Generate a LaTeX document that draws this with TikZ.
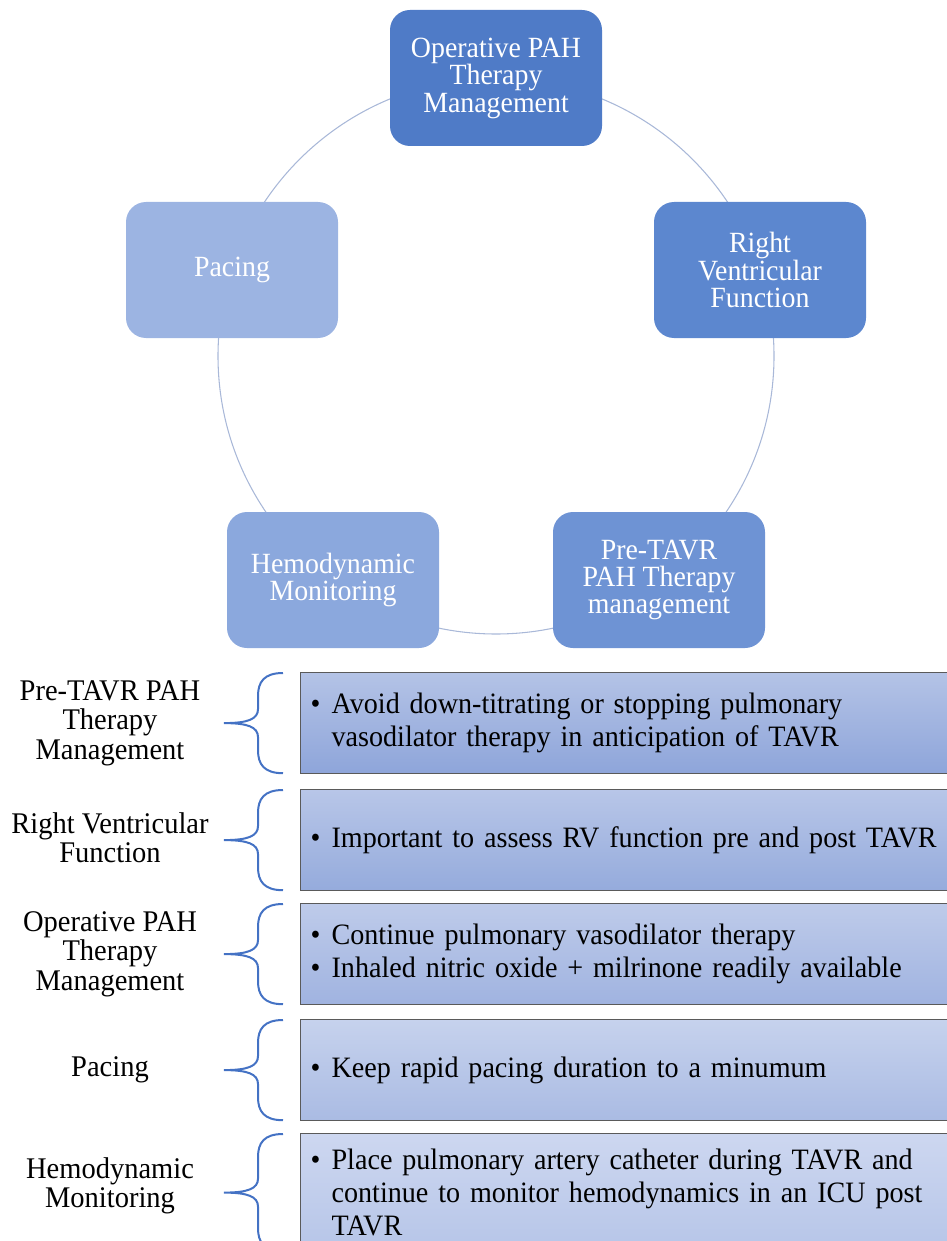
\documentclass[tikz,border=0pt]{standalone}
\usepackage{fontspec}
\setmainfont{Liberation Serif}[FakeStretch=0.95]
\usepackage{xcolor}
\usetikzlibrary{calc,positioning}

\definecolor{cycA}{HTML}{4F7BC7}
\definecolor{cycB}{HTML}{5C87CF}
\definecolor{cycC}{HTML}{6E93D4}
\definecolor{cycD}{HTML}{8BA8DD}
\definecolor{cycE}{HTML}{9CB4E2}
\definecolor{ringline}{HTML}{A9B8D8}
\definecolor{braceblue}{HTML}{4472C4}
\definecolor{rowline}{HTML}{5A5A5A}
% row gradients (top / bottom)
\definecolor{rA}{HTML}{B4C3E6}
\definecolor{rAb}{HTML}{8EA5DA}
\definecolor{rB}{HTML}{B8C6E8}
\definecolor{rBb}{HTML}{95ABDC}
\definecolor{rC}{HTML}{BECBEA}
\definecolor{rCb}{HTML}{A0B3E0}
\definecolor{rD}{HTML}{C6D2ED}
\definecolor{rDb}{HTML}{AABBE3}
\definecolor{rE}{HTML}{CDD7F0}
\definecolor{rEb}{HTML}{B6C5E8}

\newcommand{\bul}[1]{\hyphenpenalty=10000\relax\exhyphenpenalty=10000\relax
    \hangindent=15.75pt\relax\hangafter=1\relax\noindent\makebox[15.75pt][l]{\textbullet}#1\par}

\tikzset{
    cyclebox/.style={rounded corners=15pt, minimum width=159pt, minimum height=102pt,
        text=white, align=center, font=\fontsize{22}{20.6}\selectfont},
    ring/.style={draw=ringline, line width=0.8pt},
    rowbox/.style={draw=rowline, line width=0.9pt, anchor=north west, minimum height=75.75pt,
        text width=490pt, inner xsep=7.5pt, align=left, font=\fontsize{22.2}{24.75}\selectfont},
    rowlabel/.style={align=center, font=\fontsize{22.5}{22}\selectfont},
    curly/.style={draw=braceblue, line width=1.5pt},
}

\begin{document}
\begin{tikzpicture}[x=0.75pt, y=-0.75pt]
        \useasboundingbox (0,0) rectangle (946,1241);

        % cycle
        \coordinate (hub) at (496,356);
        \draw[ring] (hub) circle[radius=208.5pt];

        \node[cyclebox, fill=cycA] (optpah) at (496,78) {Operative PAH\\Therapy\\Management};
        \node[cyclebox, fill=cycB] (rvf) at (760,270) {Right\\Ventricular\\Function};
        \node[cyclebox, fill=cycC] (pretavr) at (659,580) {Pre-TAVR\\PAH Therapy\\management};
        \node[cyclebox, fill=cycD] (hemo) at (333,580) {Hemodynamic\\Monitoring};
        \node[cyclebox, fill=cycE] (pacing) at (232,270) {Pacing};

        % rows
        \node[rowbox, top color=rA, bottom color=rAb] (rowpre) at (300,672)
            {\bul{Avoid down-titrating or stopping pulmonary vasodilator therapy in anticipation of TAVR}};
        \node[rowbox, top color=rB, bottom color=rBb] (rowrv) at (300,789)
            {\bul{Important to assess RV function pre and post TAVR}};
        \node[rowbox, top color=rC, bottom color=rCb] (rowop) at (300,903)
            {\bul{Continue pulmonary vasodilator therapy}\bul{Inhaled nitric oxide + milrinone readily available}};
        \node[rowbox, top color=rD, bottom color=rDb] (rowpace) at (300,1019)
            {\bul{Keep rapid pacing duration to a minumum}};
        \node[rowbox, top color=rE, bottom color=rEb, minimum height=88.5pt] (rowhemo) at (300,1133)
            {\bul{Place pulmonary artery catheter during TAVR and continue to monitor hemodynamics in an ICU post TAVR}};

        % labels
        \node[rowlabel] (labpre) at (110,723) {Pre-TAVR PAH\\Therapy\\Management};
        \node[rowlabel] (labrv) at (110,838) {Right Ventricular\\Function};
        \node[rowlabel] (labop) at (110,954) {Operative PAH\\Therapy\\Management};
        \node[rowlabel] (labpace) at (110,1070) {Pacing};
        \node[rowlabel] (labhemo) at (110,1186) {Hemodynamic\\Monitoring};

        % braces
        \foreach \b in {rowpre,rowrv,rowop,rowpace,rowhemo} {
            \draw[curly] ($(\b.north west)+(-17,1)$)
                .. controls ($(\b.north west)+(-36,1)$) and ($(\b.north west)+(-42,10)$) .. ($(\b.north west)+(-42,24)$)
                -- ($(\b.west)+(-42,-14)$)
                .. controls ($(\b.west)+(-42,-4)$) and ($(\b.west)+(-52,0)$) .. ($(\b.west)+(-76,0)$)
                .. controls ($(\b.west)+(-52,0)$) and ($(\b.west)+(-42,4)$) .. ($(\b.west)+(-42,14)$)
                -- ($(\b.south west)+(-42,-24)$)
                .. controls ($(\b.south west)+(-42,-10)$) and ($(\b.south west)+(-36,-1)$) .. ($(\b.south west)+(-17,-1)$);
        }
\end{tikzpicture}
\end{document}
